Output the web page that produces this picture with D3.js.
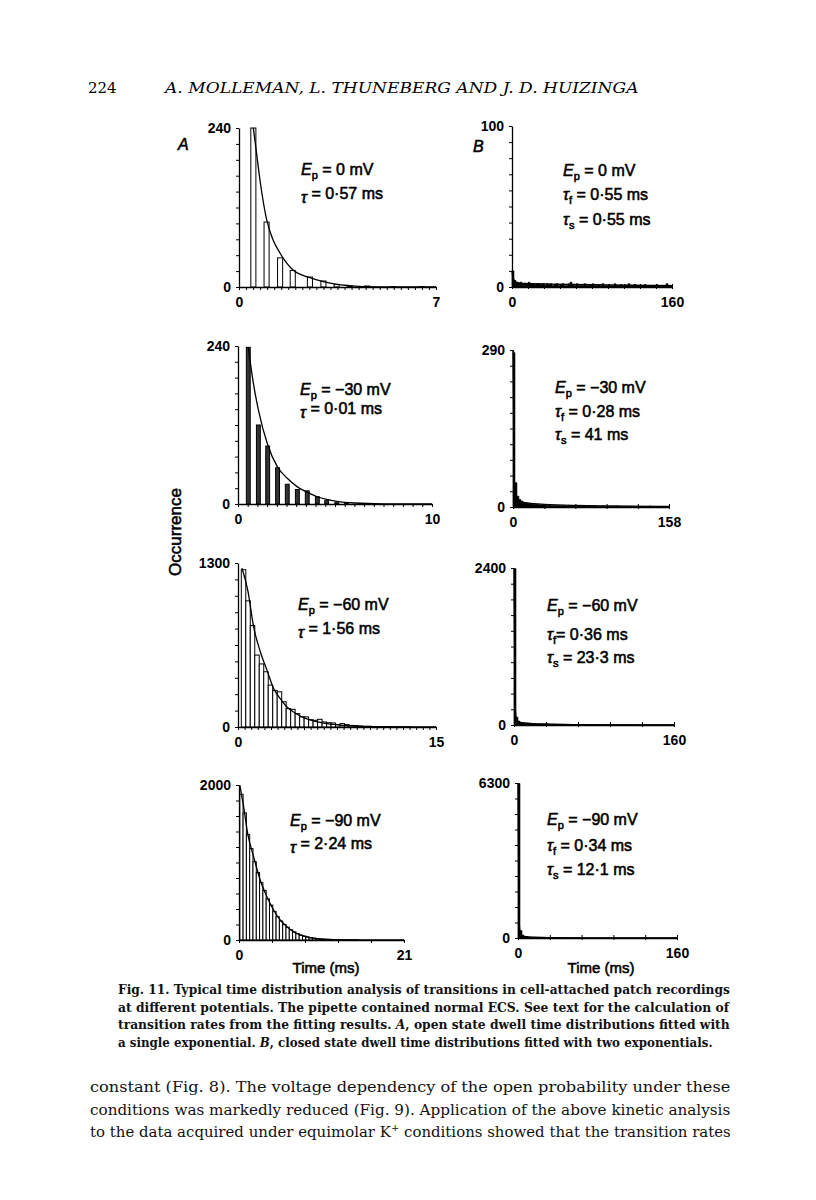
<!DOCTYPE html>
<html><head><meta charset="utf-8">
<script src="https://cdn.jsdelivr.net/npm/d3@7"></script>
<style>body{margin:0;background:#fff}svg{display:block}</style></head>
<body><svg id="c" width="816" height="1200"></svg>
<script>
// ---------- DATA ----------
// Panel A: open-state dwell-time histograms (time in ms, occurrence)
const a1BarTimes  = [0.51,0.98,1.46,1.91,2.52,3.0,3.47,3.94,4.55,5.48,6.5];
const a1BarCounts = [240,98,44,25,15,9,4,1,1.5,0.7,0.7];
const a1CurveTimes  = [0.51,0.6,0.75,0.98,1.2,1.46,1.91,2.52,3.0,3.47,3.94,4.5,5.5,7];
const a1CurveCounts = [240,210,160,102,72,51,26,14,8,4,2,0.5,0,0];

const a2BarTimes  = [0.53,1.05,1.53,2.04,2.54,3.06,3.57,4.09,4.57,5.09,5.6];
const a2BarCounts = [238,120,88,55,30,22,20,11,5,2,1.5];
const a2CurveTimes  = [0.53,0.8,1.05,1.53,2.04,2.54,3.06,3.57,4.09,4.57,5.09,6,7.5,10];
const a2CurveCounts = [238,182,143,90,56,39,26,18,11,7,4,1.5,0.3,0];

const a3BinStart = 0.25, a3BinWidth = 0.34;
const a3Counts = [1247,1000,804,570,500,438,332,290,279,200,146,140,106,80,80,58,53,61,40,34,32,19,27,19,13,11,8,5,6,4,3,2,3,3,1,1,1,1,0,0,0,0,0];
const a3CurveTimes  = [0.30,0.76,1.18,1.69,2.19,2.70,3.20,3.71,4.21,4.97,5.72,6.73,7.99,9.5,11.8,15];
const a3CurveCounts = [1260,1074,796,597,451,305,225,159,119,74,48,27,13,5,0,0];

const a4BinStart = 0.1, a4BinWidth = 0.42;
const a4Counts = [1880,1640,1360,1180,1010,870,740,640,530,450,370,300,245,200,165,132,105,85,62,50,40,30,24,18,13,10,8,6,5,4,3,2,2,1,1,1,0,0,0,0,0,0,0,0,0,0,0,0,0];
const a4CurveTimes  = [0.1,0.59,1.10,1.86,2.70,3.55,4.40,5.24,6.09,6.93,7.78,9.04,10.3,12.4,15.4,21];
const a4CurveCounts = [2000,1720,1376,1075,774,559,387,258,172,108,65,30,13,4,0,0];

// Panel B: closed-state dwell-time histograms (2 ms bins)
const bBinWidth = 2;
const b1Counts = [10,4,3,2.5,3,2,2.5,2,3,2,2,1.5,2,2,1.5,2,1,2,1.5,2,1,1.5,2,1,1.5,2,1,1,2,3,1.5,1,2,1,1.5,1,2,1,1,1.5,2,1,1,1.5,1,2,1,1,1.5,1,1,2,1,1,1.5,1,1,1,2,1,1,1.5,1,1,1,1,1.5,1,1,1,1,1,1.5,1,1,1,1,2,1,1];
const b2Counts = [285,45,20,14,11,9,8,7,6,6,5,5,5,4,4,4,4,3,4,3,3,3,3,3,2,3,2,2,3,2,2,2,2,2,1,2,2,1,2,1,1,2,1,1,1,2,1,1,1,1,1,1,2,1,1,1,1,1,1,1,1,1,1,1,1,1,1,1,1,2,1,1,1,1,1,1,1,1,1];
const b3Counts = [2390,120,60,40,32,28,25,22,20,18,17,16,15,14,13,12,12,11,10,10,9,9,8,8,8,7,7,7,6,6,6,5,5,5,5,4,4,4,4,4,3,3,3,3,3,3,3,2,2,2,2,2,2,2,2,2,2,2,1,1,1,1,1,1,1,1,1,1,1,1,1,1,1,1,1,1,1,1,1,1];
const b4Counts = [6280,300,120,70,50,40,32,26,22,18,15,13,11,10,9,8,7,6,6,5,5,4,4,4,3,3,3,3,2,2,2,2,2,2,2,1,1,1,1,1,1,1,1,1,1,1,1,1,1,1,1,1,1,1,1,1,1,1,1,1,1,1,1,1,1,1,1,1,1,1,1,1,1,1,1,1,1,1,1,1];
const b1CurveTimes = [0,1,3,6,10,20,40,80,120,160], b1CurveCounts = [10,6,3.5,2.6,2.3,2.1,1.8,1.4,1.1,0.9];
const b2CurveTimes = [0,1,2,4,8,16,32,64,100,158], b2CurveCounts = [290,90,25,12,9,7,5,3,2,1];
const b3CurveTimes = [0,1,2,4,8,16,32,64,100,160], b3CurveCounts = [2400,500,120,50,35,25,15,6,2,0.5];
const b4CurveTimes = [0,1,2,4,8,16,32,64,100,160], b4CurveCounts = [6300,1000,250,80,50,35,15,3,0.5,0];

// Axis maxima / tick labels
const xMaxLabels = ["7","10","15","21","160","158","160","160"];
const yMaxLabels = ["240","240","1300","2000","100","290","2400","6300"];
const xMinorCounts = [28,20,30,5,10,5,5,5];

// Annotations
const potentials = ["0","−30","−60","−90"];
const tauA = ["0·57","0·01","1·56","2·24"];
const tauF = ["0·55","0·28","0·36","0·34"];
const tauS = ["0·55","41","23·3","12·1"];

// ---------- LAYOUT ----------
const svg = d3.select("#c");
const SANS = "'Liberation Sans', Arial, Helvetica, sans-serif";
const SERIF = "'DejaVu Serif', 'Liberation Serif', serif";

const frames = [
  {x0:239,x1:436,yB:287,yT:128},
  {x0:238,x1:432,yB:504,yT:346},
  {x0:238,x1:436,yB:727,yT:563},
  {x0:239,x1:404,yB:940,yT:785},
  {x0:512,x1:672,yB:287,yT:126},
  {x0:513,x1:669,yB:507,yT:350},
  {x0:514,x1:674,yB:725,yT:568},
  {x0:518,x1:677,yB:938,yT:783}
];

function sansText(sel, size){
  return sel.style("font-family",SANS).style("font-size",size+"px")
    .attr("fill","#000").style("stroke","#000").style("stroke-width","0.55px");
}

function makeScales(i){
  const f = frames[i];
  const xMax = +xMaxLabels[i], yMax = +yMaxLabels[i];
  return {
    x: d3.scaleLinear().domain([0,xMax]).range([f.x0,f.x1]),
    y: d3.scaleLinear().domain([0,yMax]).range([f.yB,f.yT]),
    xMax, yMax, f
  };
}

function drawAxes(i, s){
  const g = svg.append("g");
  const yVals = d3.range(0,11).map(k => k*s.yMax/10);
  const yAx = d3.axisLeft(s.y).tickValues(yVals).tickSize(3).tickSizeOuter(0).tickPadding(5)
    .tickFormat((d,k) => k===0 ? "0" : (k===10 ? yMaxLabels[i] : ""));
  const gy = g.append("g").attr("transform",`translate(${s.f.x0},0)`).call(yAx);
  const n = xMinorCounts[i];
  const xVals = d3.range(0,n+1).map(k => k*s.xMax/n);
  const xAx = d3.axisBottom(s.x).tickValues(xVals).tickSize(3).tickSizeOuter(0).tickPadding(7)
    .tickFormat((d,k) => k===0 ? "0" : (k===n ? xMaxLabels[i] : ""));
  const gx = g.append("g").attr("transform",`translate(0,${s.f.yB})`).call(xAx);
  [gy,gx].forEach(a => {
    a.selectAll("path.domain").attr("stroke","#000").attr("stroke-width",1.3);
    a.selectAll(".tick line").attr("stroke","#000").attr("stroke-width",1);
    a.selectAll(".tick text").attr("fill","#000").style("font-family",SANS)
      .style("font-size","14px").style("font-weight","bold");
  });
  if (i>=4) gx.selectAll(".tick line").attr("y1",-3).attr("y2",2);
}

function drawCurve(s, ts, cs){
  const pts = ts.map((t,k)=>[t,cs[k]]);
  svg.append("path").datum(pts)
    .attr("d", d3.line().x(d=>s.x(d[0])).y(d=>s.y(d[1])).curve(d3.curveMonotoneX))
    .attr("fill","none").attr("stroke","#000").attr("stroke-width",1.3);
}

function drawNarrowBars(s, ts, cs, w, fill){
  const bw = s.x(w)-s.x(0);
  svg.append("g").selectAll("rect").data(ts.map((t,k)=>({t,c:cs[k]}))).join("rect")
    .attr("x", d=>s.x(d.t)-bw/2).attr("width", bw)
    .attr("y", d=>s.y(d.c)).attr("height", d=>s.f.yB - s.y(d.c))
    .attr("fill", fill).attr("stroke","#000").attr("stroke-width",1);
}

function drawHistBins(s, start, width, cs){
  const data = cs.map((c,k)=>({a:start+k*width, b:start+(k+1)*width, c})).filter(d=>d.c>0 && d.a < s.xMax);
  svg.append("g").selectAll("rect").data(data).join("rect")
    .attr("x", d=>s.x(d.a)).attr("width", d=>s.x(Math.min(d.b,s.xMax))-s.x(d.a))
    .attr("y", d=>s.y(d.c)).attr("height", d=>s.f.yB - s.y(d.c))
    .attr("fill","#fff").attr("stroke","#000").attr("stroke-width",1);
}

function drawStepArea(s, width, cs){
  const pts = cs.map((c,k)=>[k*width, c]).filter(d=>d[0] < s.xMax);
  pts.push([Math.min(cs.length*width, s.xMax), cs[cs.length-1]]);
  svg.append("path").datum(pts)
    .attr("d", d3.area().x(d=>s.x(d[0])).y0(s.f.yB).y1(d=>s.y(d[1])).curve(d3.curveStepAfter))
    .attr("fill","#000").attr("stroke","#000").attr("stroke-width",0.6);
}

// ---------- PANELS ----------
const sc = d3.range(8).map(makeScales);

drawNarrowBars(sc[0], a1BarTimes, a1BarCounts, 0.18, "#fff");
drawCurve(sc[0], a1CurveTimes, a1CurveCounts);

drawNarrowBars(sc[1], a2BarTimes, a2BarCounts, 0.2, "#333");
drawCurve(sc[1], a2CurveTimes, a2CurveCounts);

drawHistBins(sc[2], a3BinStart, a3BinWidth, a3Counts);
drawCurve(sc[2], a3CurveTimes, a3CurveCounts);

drawHistBins(sc[3], a4BinStart, a4BinWidth, a4Counts);
drawCurve(sc[3], a4CurveTimes, a4CurveCounts);

[[b1Counts,b1CurveTimes,b1CurveCounts],[b2Counts,b2CurveTimes,b2CurveCounts],
 [b3Counts,b3CurveTimes,b3CurveCounts],[b4Counts,b4CurveTimes,b4CurveCounts]].forEach((b,k)=>{
  drawStepArea(sc[4+k], bBinWidth, b[0]);
  drawCurve(sc[4+k], b[1], b[2]);
});

for (let i=0;i<8;i++) drawAxes(i, sc[i]);

// ---------- ANNOTATIONS ----------
function annot(x, y, symbol, sub, rest){
  const t = sansText(svg.append("text").attr("x",x).attr("y",y), 16);
  t.append("tspan").style("font-style","italic").text(symbol);
  t.append("tspan").attr("dy",4).style("font-size","11px").text(sub);
  t.append("tspan").attr("dy",-4).text(rest);
}
const annA = [[301,175,203],[300,395,418],[298,610,638],[290,826,853]];
annA.forEach((a,k)=>{
  annot(a[0], a[1], "E", "p", " = " + potentials[k] + " mV");
  annot(a[0], a[2], "τ", "", " = " + tauA[k] + " ms");
});
const annB = [[563,176,200,225],[555,393,417,440],[547,611,640,663],[547,825,851,875]];
annB.forEach((a,k)=>{
  annot(a[0], a[1], "E", "p", " = " + potentials[k] + " mV");
  annot(a[0], a[2], "τ", "f", (k===2 ? "= " : " = ") + tauF[k] + " ms");
  annot(a[0], a[3], "τ", "s", " = " + tauS[k] + " ms");
});

// panel letters
sansText(svg.append("text").attr("x",178).attr("y",150).text("A"),16).style("font-style","italic");
sansText(svg.append("text").attr("x",473).attr("y",152).text("B"),16).style("font-style","italic");

// axis titles
[[326,"Time (ms)"],[601,"Time (ms)"]].forEach(d=>{
  sansText(svg.append("text").attr("x",d[0]).attr("y",973).attr("text-anchor","middle").text(d[1]),15);
});
sansText(svg.append("text").attr("transform","translate(181,532) rotate(-90)").attr("text-anchor","middle")
  .text("Occurrence"),17);

// ---------- PAGE TEXT ----------
// lay out a line naturally, then stretch it horizontally to the justified width
function justifiedLine(x, y, width, parts, font){
  const t = svg.append("text").attr("x",0).attr("y",0)
    .style("font-family",SERIF).style("font-size",font.size+"px")
    .style("font-weight",font.weight||"normal").style("font-style",font.style||"normal")
    .attr("fill",font.fill||"#111");
  parts.forEach(p=>{
    const s = t.append("tspan").text(p.text);
    if (p.italic) s.style("font-style","italic");
    if (p.dy) s.attr("dy",p.dy);
    if (p.size) s.style("font-size",p.size+"px");
  });
  const w = t.node().getBBox().width;
  t.attr("transform",`translate(${x},${y}) scale(${width/w},1)`);
  return t;
}

svg.append("text").attr("x",88).attr("y",93).text("224")
  .style("font-family",SERIF).style("font-size","15px");
justifiedLine(165, 93, 476, [{text:"A. MOLLEMAN, L. THUNEBERG AND J. D. HUIZINGA"}],
  {size:15.5, style:"italic", fill:"#000"});

const captionLines = [
  [{text:"Fig. 11. Typical time distribution analysis of transitions in cell-attached patch recordings"}],
  [{text:"at different potentials. The pipette contained normal ECS. See text for the calculation of"}],
  [{text:"transition rates from the fitting results. "},{text:"A",italic:true},{text:", open state dwell time distributions fitted with"}],
  [{text:"a single exponential. "},{text:"B",italic:true},{text:", closed state dwell time distributions fitted with two exponentials."}]
];
const captionLengths = [612,612,612,595];
captionLines.forEach((line,k)=>{
  justifiedLine(118, 994 + k*17.6, captionLengths[k], line, {size:12.3, weight:"bold"});
});

const bodyLines = [
  [{text:"constant (Fig. 8). The voltage dependency of the open probability under these"}],
  [{text:"conditions was markedly reduced (Fig. 9). Application of the above kinetic analysis"}],
  [{text:"to the data acquired under equimolar K"},{text:"+",dy:-6,size:10},{text:" conditions showed that the transition rates",dy:6}]
];
bodyLines.forEach((line,k)=>{
  justifiedLine(90, 1092 + k*22.5, 641, line, {size:15});
});
</script>
</body></html>
